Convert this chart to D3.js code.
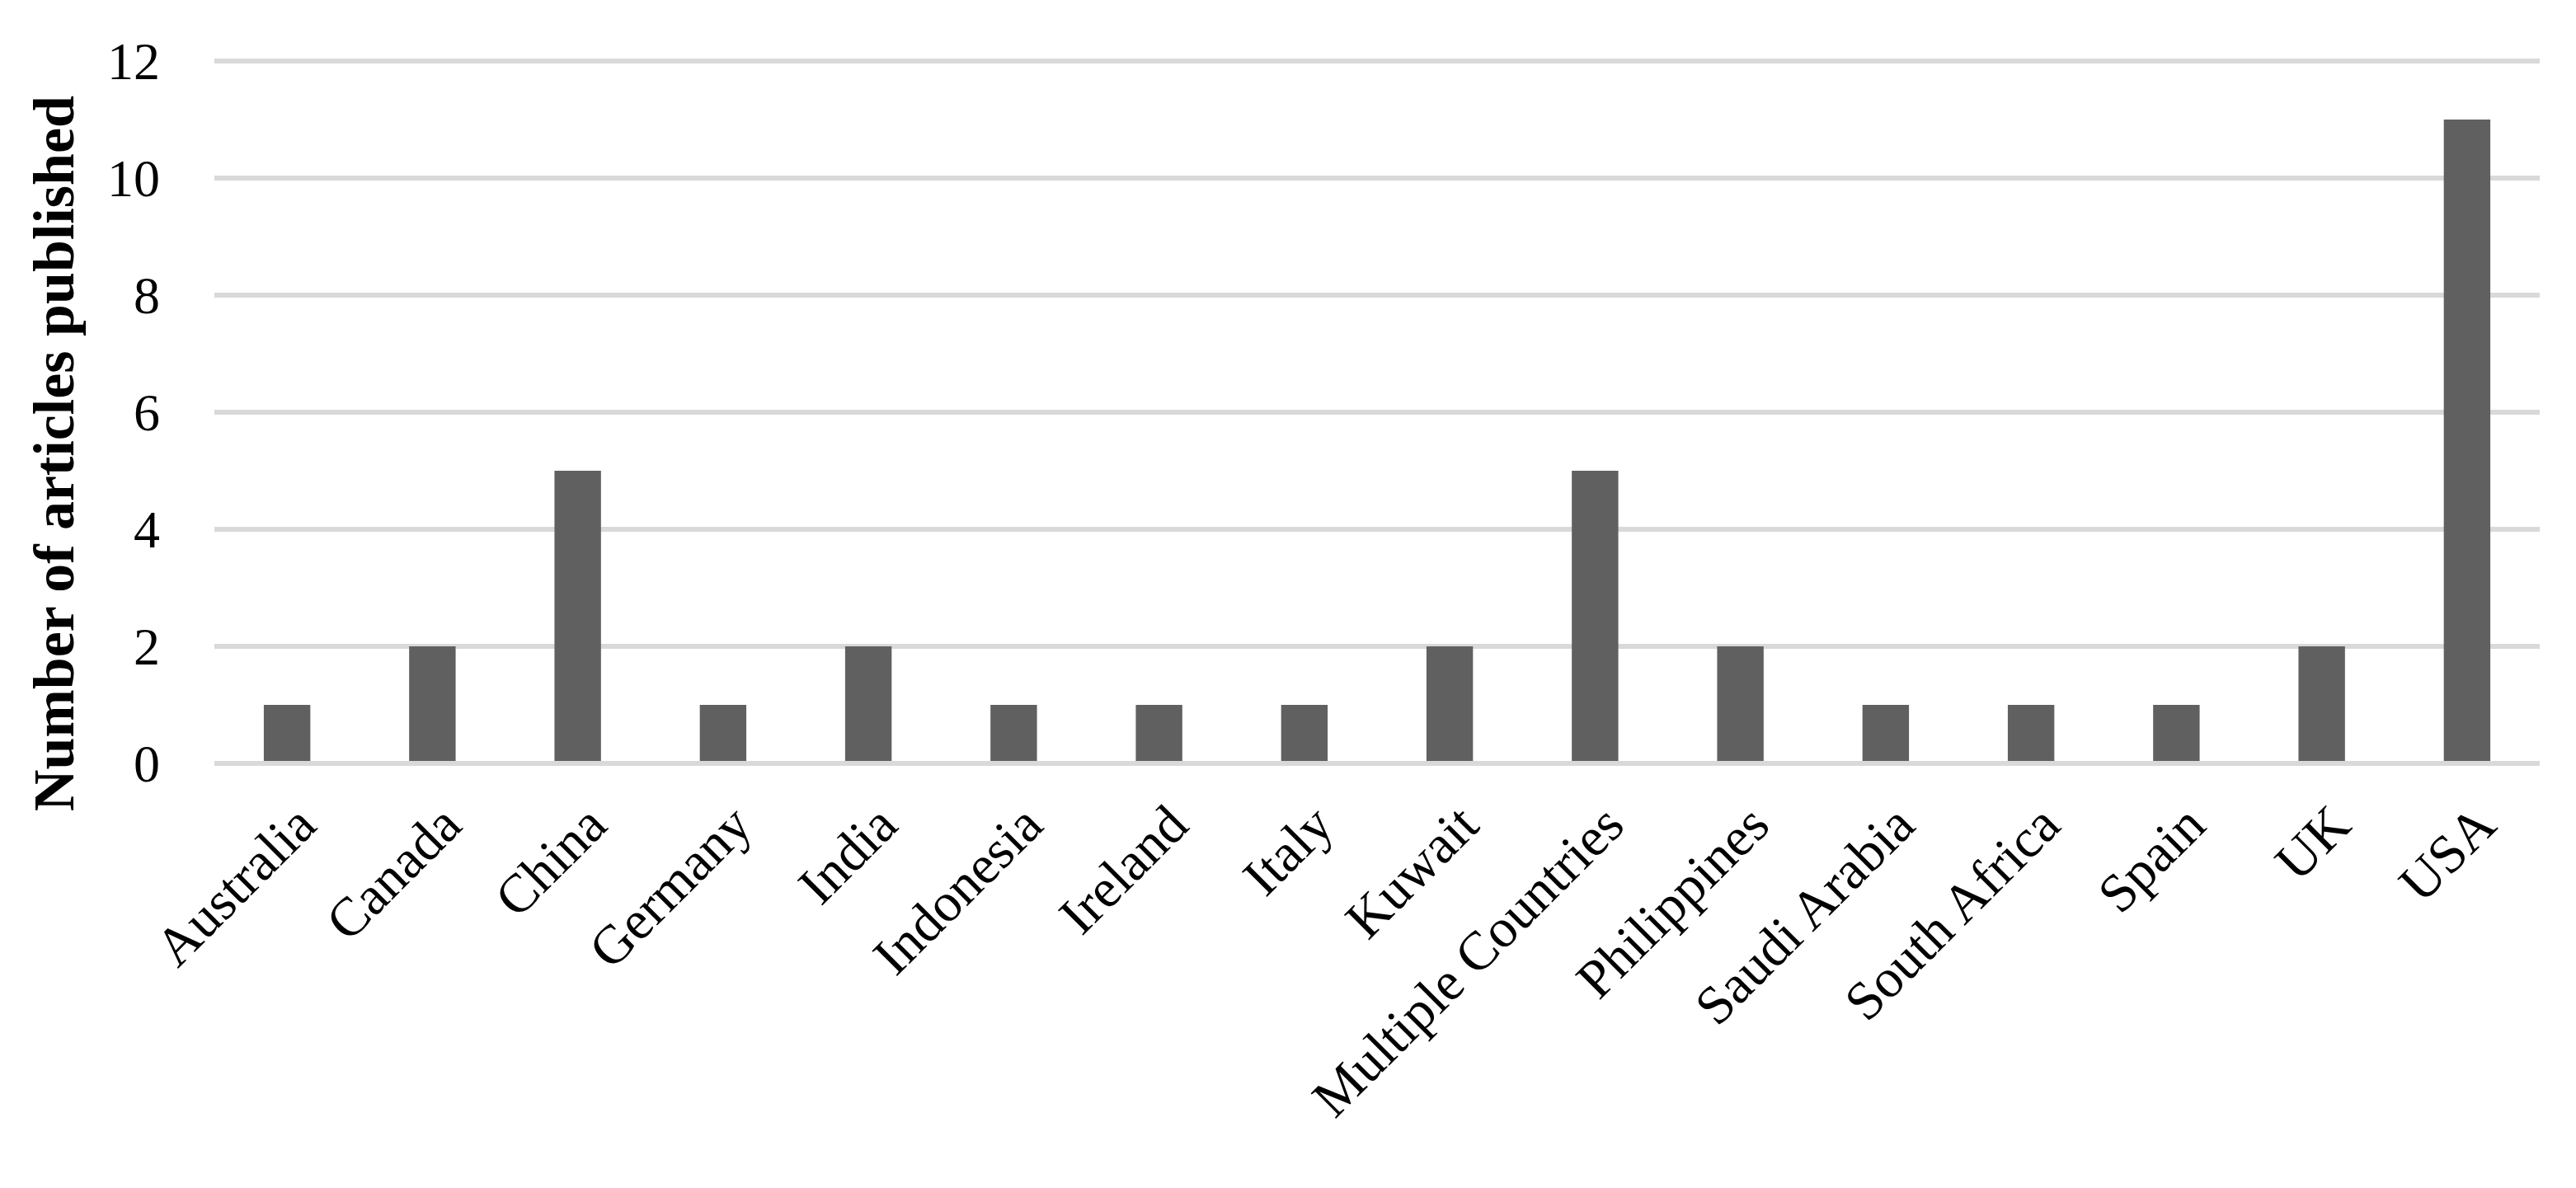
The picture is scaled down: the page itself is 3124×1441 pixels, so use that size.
<!DOCTYPE html>
<html><head><meta charset="utf-8">
<script src="https://cdn.jsdelivr.net/npm/d3@7"></script>
<style>body{margin:0;background:#fff}</style>
</head><body>
<script>
const countries = ['Australia','Canada','China','Germany','India','Indonesia','Ireland','Italy','Kuwait','Multiple Countries','Philippines','Saudi Arabia','South Africa','Spain','UK','USA'];
const articles = [1,2,5,1,2,1,1,1,2,5,2,1,1,1,2,11];
const yTicks = [0,2,4,6,8,10,12];

const W = 3124, H = 1441;
const m = {left: 260, right: 44, top: 74, bottom: 515};
const svg = d3.select('body').append('svg').attr('width', W).attr('height', H);
const font = '"Liberation Serif", "DejaVu Serif", serif';

const x = d3.scaleBand().domain(countries).range([m.left, W - m.right]).paddingInner(0.68).paddingOuter(0.34);
const y = d3.scaleLinear().domain([0, 12]).range([H - m.bottom, m.top]);

// gridlines
svg.append('g').selectAll('line').data(yTicks).join('line')
  .attr('x1', m.left).attr('x2', W - m.right)
  .attr('y1', d => y(d)).attr('y2', d => y(d))
  .attr('stroke', '#d9d9d9').attr('stroke-width', 6);

// y tick labels
svg.append('g').selectAll('text').data(yTicks).join('text')
  .attr('x', 194).attr('y', d => y(d)).attr('dy', '0.35em')
  .attr('text-anchor', 'end')
  .style('font-family', font).style('font-size', '64px')
  .text(d => d);

// bars
svg.append('g').selectAll('rect').data(countries).join('rect')
  .attr('x', d => x(d)).attr('width', x.bandwidth())
  .attr('y', (d, i) => y(articles[i]))
  .attr('height', (d, i) => y(0) - y(articles[i]) - 3)
  .attr('fill', '#606060');

// x labels
svg.append('g').selectAll('text').data(countries).join('text')
  .attr('transform', d => `translate(${x(d) + x.bandwidth() / 2 + 22},${y(0) + 62}) rotate(-45)`)
  .attr('text-anchor', 'end')
  .attr('dy', '0.35em')
  .style('font-family', font).style('font-size', '66px')
  .text(d => d);

// y title
svg.append('text')
  .attr('transform', `translate(64,${(m.top + H - m.bottom) / 2 + 50}) rotate(-90)`)
  .attr('text-anchor', 'middle').attr('dy', '0.35em')
  .style('font-family', font).style('font-size', '70px').style('font-weight', 'bold')
  .text('Number of articles published');
</script>
</body></html>
